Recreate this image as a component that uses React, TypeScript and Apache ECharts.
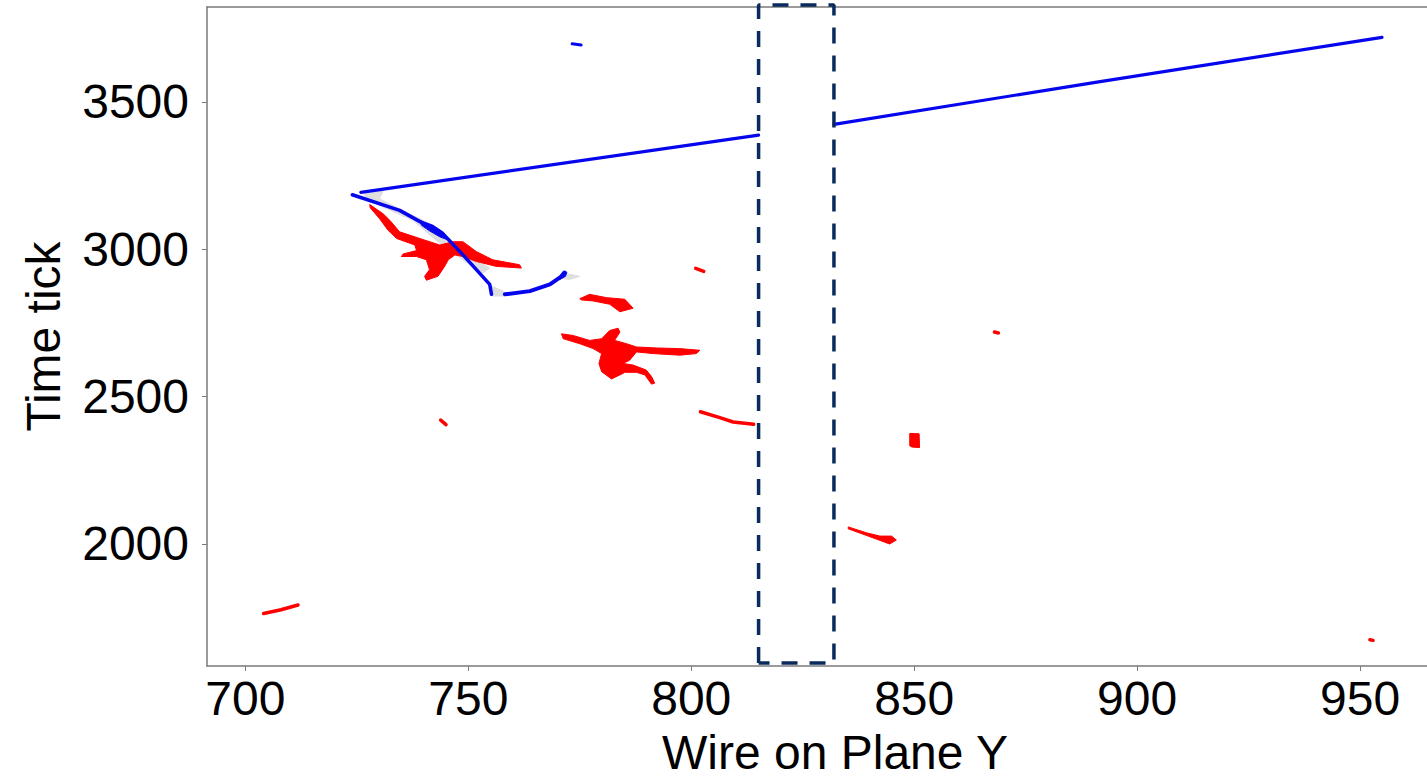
import React, { useEffect, useRef } from "react";
import * as echarts from "echarts";

// Axis ticks
const X_TICKS = [700, 750, 800, 850, 900, 950];
const Y_TICKS = [2000, 2500, 3000, 3500];
const X_MIN = 691.4;
const X_MAX = 965.0;
const Y_MIN = 1586;
const Y_MAX = 3822;

// Blue reconstructed track
const trackUpperLeft = [[725.9, 3193], [815.1, 3387]];
const trackUpperRight = [[832.0, 3424], [891.7, 3569], [954.9, 3719]];
const trackLower = [
  [724.0, 3185], [734.6, 3132], [741.3, 3076], [744.3, 3053],
  [748.8, 2981], [754.8, 2881], [755.2, 2847],
];
const trackCurve = [
  [758.2, 2847], [763.8, 2858], [768.3, 2881], [770.9, 2908], [771.6, 2921],
];
const blueDash = [[773.3, 3697], [775.3, 3693]];
const blueFills = [
  [[739.1, 3098.1], [742.1, 3081.4], [744.3, 3059.1], [745.5, 3031.2], [743.6, 3042.3], [741.3, 3062.4], [739.5, 3081.4]],
  [[770.5, 2908.4], [771.3, 2925.1], [772.1, 2921.8], [771.8, 2908.4], [770.5, 2897.2]],
];

// Grey shadow regions
const greyFills = [
  [[726.4, 3193.0], [730.9, 3198.6], [730.1, 3170.7], [735.4, 3131.6], [741.3, 3087.0], [745.8, 3036.7], [750.3, 2975.4], [754.8, 2936.3], [753.3, 2919.6], [748.8, 2964.2], [743.6, 3020.0], [737.6, 3098.1], [730.1, 3148.3], [727.1, 3176.2]],
  [[755.2, 2874.9], [757.8, 2858.2], [758.2, 2841.4], [755.2, 2841.4]],
  [[771.2, 2919.6], [775.0, 2908.4], [772.7, 2897.2], [770.5, 2902.8]],
];

// Red hit regions (filled)
const redFills = [
  // large blob
  [[727.9, 3151.7], [730.9, 3120.4], [732.4, 3098.1], [734.6, 3059.1], [739.1, 3036.7], [743.6, 3014.4], [746.6, 3025.6], [748.8, 3025.6], [751.8, 2992.1], [755.5, 2964.2], [761.5, 2947.5], [761.9, 2936.3], [756.3, 2941.9], [751.8, 2958.6], [748.8, 2975.4], [747.0, 2980.9], [745.5, 2964.2], [744.7, 2941.9], [743.2, 2908.4], [740.6, 2895.0], [740.2, 2908.4], [741.3, 2930.7], [740.6, 2964.2], [738.4, 2975.4], [735.0, 2975.4], [735.4, 2984.3], [738.4, 2995.5], [738.0, 3014.4], [733.9, 3036.7], [732.0, 3064.6], [730.1, 3103.7], [728.0, 3140.5]],
  // small wedge
  [[775.0, 2832.5], [777.2, 2847.0], [781.0, 2835.9], [785.1, 2830.3], [786.96, 2800.1], [784.0, 2787.9], [781.7, 2813.5], [778.0, 2824.7], [775.4, 2828.1]],
  // bird-like cluster
  [[770.88, 2713.1], [773.5, 2707.5], [777.2, 2690.8], [779.9, 2696.4], [781.7, 2724.3], [783.6, 2732.1], [784.0, 2718.7], [782.8, 2690.8], [785.5, 2679.6], [787.7, 2668.5], [792.2, 2665.1], [797.4, 2662.9], [801.9, 2657.3], [801.2, 2646.1], [797.4, 2640.6], [791.4, 2646.1], [787.7, 2651.7], [786.2, 2623.8], [784.7, 2612.7], [786.96, 2607.1], [789.9, 2590.3], [791.1, 2568.0], [791.8, 2545.7], [791.1, 2542.4], [789.6, 2573.6], [787.7, 2582.5], [785.1, 2582.5], [784.0, 2573.6], [782.1, 2560.2], [779.9, 2584.8], [779.3, 2612.7], [779.9, 2646.1], [778.0, 2662.9], [775.0, 2679.6], [771.3, 2696.4]],
  // block
  [[849.0, 2375], [851.1, 2374], [851.2, 2327], [849.5, 2329], [849.0, 2333]],
  // tail
  [[835.2, 2058.0], [839.3, 2037.9], [842.3, 2026.8], [844.9, 2026.8], [846.0, 2013.4], [844.5, 1999.9], [842.7, 2010.0], [839.3, 2029.0], [835.2, 2051.3]],
];

// Red hit regions (thin strokes)
const redStrokes = [
  [[704.1, 1764], [708.0, 1777], [711.8, 1793]],
  [[802.06, 2448.6], [806.4, 2428.5], [809.4, 2414.0], [814.0, 2406.2]],
  [[801.0, 2935], [802.8, 2925]],
  [[868.0, 2719], [868.9, 2716]],
  [[743.8, 2420], [745.0, 2405]],
  [[952.2, 1675], [952.9, 1673]],
];

// Dashed region of dead wires
const boxX = [815.1, 832.0];
const boxY = [1596, 3829];

const FONT = "'Liberation Sans', Arial, sans-serif";
const AXIS_GREY = "#7a7a7a";
const RED = "#ff0000";
const BLUE = "#0606ee";
const GREY = "#dedede";
const NAVY = "#0b2a5c";

function polySeries(shapes: number[][][], color: string, z: number) {
  return {
    type: "custom",
    coordinateSystem: "cartesian2d",
    z,
    silent: true,
    data: shapes.map((s, i) => [s[0][0], s[0][1], i]),
    renderItem: (params: any, api: any) => {
      const pts = shapes[params.dataIndex].map((p) => api.coord(p));
      return {
        type: "polygon",
        shape: { points: pts },
        style: { fill: color, stroke: color, lineWidth: 1 },
      };
    },
  };
}

function lineSeries(data: number[][], color: string, width: number, z: number) {
  return {
    type: "line",
    data,
    z,
    symbol: "none",
    silent: true,
    lineStyle: { color, width, cap: "round" },
  };
}

export default function App() {
  const ref = useRef<HTMLDivElement>(null);
  useEffect(() => {
    const chart = echarts.init(ref.current!, null, { renderer: "svg" });
    const boxData = [
      [boxX[0], boxY[0]], [boxX[0], boxY[1]], [boxX[1], boxY[1]], [boxX[1], boxY[0]], [boxX[0], boxY[0]],
    ];
    chart.setOption({
      animation: false,
      backgroundColor: "#ffffff",
      grid: { left: 207, right: 0, top: 7, bottom: 106 },
      xAxis: [
        {
          type: "value",
          min: X_MIN,
          max: X_MAX,
          name: "Wire on Plane Y",
          nameLocation: "middle",
          nameGap: 62,
          nameTextStyle: { fontFamily: FONT, fontSize: 48, color: "#000", padding: [0, 0, 0, 36] },
          splitLine: { show: false },
          axisLine: { show: true, lineStyle: { color: AXIS_GREY, width: 1.5 } },
          axisTick: { show: true, length: 5, lineStyle: { color: AXIS_GREY }, customValues: X_TICKS },
          axisLabel: { fontFamily: FONT, fontSize: 48, color: "#000", margin: 8, customValues: X_TICKS, formatter: (v: number) => String(v) },
        },
        {
          type: "value",
          position: "top",
          min: X_MIN,
          max: X_MAX,
          splitLine: { show: false },
          axisLine: { show: true, lineStyle: { color: AXIS_GREY, width: 1.5 } },
          axisTick: { show: false },
          axisLabel: { show: false },
        },
      ],
      yAxis: {
        type: "value",
        min: Y_MIN,
        max: Y_MAX,
        name: "Time tick",
        nameLocation: "middle",
        nameGap: 140,
        nameTextStyle: { fontFamily: FONT, fontSize: 48, color: "#000" },
        splitLine: { show: false },
        axisLine: { show: true, lineStyle: { color: AXIS_GREY, width: 1.5 } },
        axisTick: { show: true, length: 5, lineStyle: { color: AXIS_GREY }, customValues: Y_TICKS },
        axisLabel: { fontFamily: FONT, fontSize: 48, color: "#000", margin: 18, customValues: Y_TICKS, formatter: (v: number) => String(v) },
      },
      series: [
        polySeries(greyFills, GREY, 1),
        polySeries(redFills, RED, 2),
        ...redStrokes.map((s) => lineSeries(s, RED, 3.5, 2)),
        lineSeries(trackUpperLeft, BLUE, 3.2, 3),
        lineSeries(trackUpperRight, BLUE, 3.2, 3),
        lineSeries(trackLower, BLUE, 3.5, 3),
        lineSeries(trackCurve, BLUE, 4, 3),
        lineSeries(blueDash, BLUE, 3, 3),
        polySeries(blueFills, BLUE, 3),
        {
          type: "line",
          data: boxData,
          z: 5,
          symbol: "none",
          silent: true,
          clip: false,
          lineStyle: { color: NAVY, width: 3.5, type: [16, 12] },
        },
      ],
    });
    return () => chart.dispose();
  }, []);
  return (
    <div
      ref={ref}
      style={{ position: "fixed", left: 0, top: 0, width: 1427, height: 781 }}
    />
  );
}
